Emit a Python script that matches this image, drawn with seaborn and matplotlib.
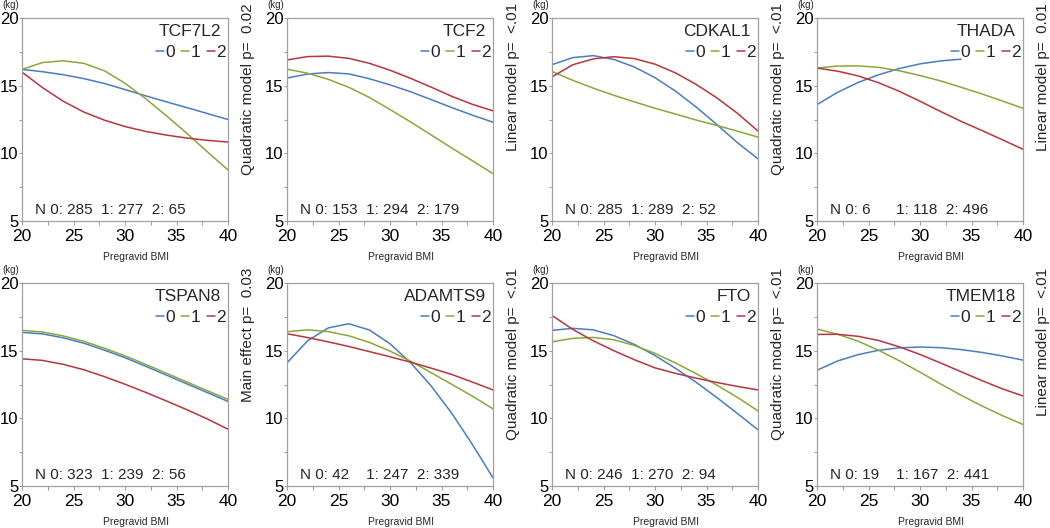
import pandas as pd
import matplotlib
matplotlib.use("Agg")
import matplotlib.pyplot as plt
import seaborn as sns
from matplotlib.ticker import MultipleLocator

# BMI grid the curves were read at
bmi = [20, 22, 24, 26, 28, 30, 32, 34, 36, 38, 40]
thada_bmi0 = [20, 22, 24, 26, 28, 30, 32, 34]

genes = ["TCF7L2", "TCF2", "CDKAL1", "THADA", "TSPAN8", "ADAMTS9", "FTO", "TMEM18"]
p_labels = [
    "Quadratic model p=  0.02",
    "Linear model p=  <.01",
    "Quadratic model p=  <.01",
    "Linear model p=  0.01",
    "Main effect p=  0.03",
    "Quadratic model p=  <.01",
    "Quadratic model p=  <.01",
    "Linear model p=  <.01",
]
n0 = [285, 153, 285, 6, 323, 42, 246, 19]
n1 = [277, 294, 289, 118, 239, 247, 270, 167]
n2 = [65, 179, 52, 496, 56, 339, 94, 441]

# predicted weight (kg) per genotype 0 / 1 / 2
tcf7l2_0 = [16.2, 16.03, 15.81, 15.52, 15.16, 14.71, 14.25, 13.81, 13.38, 12.94, 12.5]
tcf7l2_1 = [16.2, 16.71, 16.84, 16.65, 16.1, 15.18, 14.04, 12.79, 11.48, 10.11, 8.77]
tcf7l2_2 = [16.0, 14.85, 13.85, 13.05, 12.45, 11.98, 11.62, 11.35, 11.13, 10.96, 10.83]

tcf2_0 = [15.56, 15.86, 15.97, 15.87, 15.51, 15.06, 14.55, 13.97, 13.38, 12.82, 12.3]
tcf2_1 = [16.22, 15.92, 15.47, 14.88, 14.13, 13.24, 12.32, 11.36, 10.39, 9.45, 8.5]
tcf2_2 = [16.9, 17.15, 17.18, 17.02, 16.65, 16.14, 15.54, 14.89, 14.21, 13.62, 13.14]

cdkal1_0 = [16.55, 17.07, 17.22, 16.94, 16.38, 15.59, 14.59, 13.42, 12.13, 10.79, 9.6]
cdkal1_1 = [16.05, 15.4, 14.82, 14.29, 13.8, 13.33, 12.9, 12.46, 12.06, 11.64, 11.2]
cdkal1_2 = [15.65, 16.54, 16.98, 17.14, 17.0, 16.59, 15.94, 15.09, 14.1, 12.96, 11.65]

thada_0 = [13.6, 14.51, 15.24, 15.81, 16.27, 16.61, 16.83, 16.96]
thada_1 = [16.3, 16.45, 16.46, 16.35, 16.1, 15.75, 15.35, 14.88, 14.39, 13.87, 13.33]
thada_2 = [16.3, 16.07, 15.72, 15.21, 14.58, 13.85, 13.09, 12.36, 11.69, 11.0, 10.3]

tspan8_0 = [16.35, 16.24, 15.95, 15.55, 15.04, 14.48, 13.85, 13.2, 12.55, 11.9, 11.25]
tspan8_1 = [16.5, 16.38, 16.09, 15.69, 15.18, 14.62, 13.99, 13.34, 12.69, 12.04, 11.4]
tspan8_2 = [14.4, 14.28, 13.99, 13.59, 13.08, 12.52, 11.92, 11.29, 10.64, 9.95, 9.2]

adamts9_0 = [14.1, 15.73, 16.68, 16.99, 16.53, 15.51, 14.11, 12.39, 10.37, 8.07, 5.6]
adamts9_1 = [16.4, 16.54, 16.41, 16.1, 15.61, 14.97, 14.22, 13.37, 12.51, 11.64, 10.7]
adamts9_2 = [16.25, 15.97, 15.65, 15.31, 14.93, 14.55, 14.15, 13.71, 13.24, 12.68, 12.1]

fto_0 = [16.5, 16.65, 16.54, 16.11, 15.46, 14.64, 13.69, 12.66, 11.54, 10.36, 9.15]
fto_1 = [15.65, 15.91, 15.98, 15.81, 15.38, 14.8, 14.09, 13.3, 12.46, 11.55, 10.55]
fto_2 = [17.6, 16.58, 15.73, 15.0, 14.33, 13.73, 13.32, 12.97, 12.65, 12.36, 12.1]

tmem18_0 = [13.55, 14.24, 14.71, 15.03, 15.21, 15.27, 15.22, 15.08, 14.87, 14.61, 14.3]
tmem18_1 = [16.6, 16.21, 15.7, 15.02, 14.25, 13.41, 12.54, 11.7, 10.92, 10.2, 9.55]
tmem18_2 = [16.2, 16.21, 16.06, 15.75, 15.28, 14.72, 14.09, 13.44, 12.79, 12.18, 11.65]

curves = {
    "TCF7L2": [(bmi, tcf7l2_0), (bmi, tcf7l2_1), (bmi, tcf7l2_2)],
    "TCF2": [(bmi, tcf2_0), (bmi, tcf2_1), (bmi, tcf2_2)],
    "CDKAL1": [(bmi, cdkal1_0), (bmi, cdkal1_1), (bmi, cdkal1_2)],
    "THADA": [(thada_bmi0, thada_0), (bmi, thada_1), (bmi, thada_2)],
    "TSPAN8": [(bmi, tspan8_0), (bmi, tspan8_1), (bmi, tspan8_2)],
    "ADAMTS9": [(bmi, adamts9_0), (bmi, adamts9_1), (bmi, adamts9_2)],
    "FTO": [(bmi, fto_0), (bmi, fto_1), (bmi, fto_2)],
    "TMEM18": [(bmi, tmem18_0), (bmi, tmem18_1), (bmi, tmem18_2)],
}

rows = []
for gene in genes:
    for g, (xs, ys) in enumerate(curves[gene]):
        for x, y in zip(xs, ys):
            rows.append({"gene": gene, "genotype": str(g), "bmi": x, "kg": y})
df = pd.DataFrame(rows)

palette = {"0": "#4a7cc0", "1": "#8ba63a", "2": "#b8353d"}
frame_gray = "#a0a0a0"

sns.set_style("ticks")
plt.rcParams["font.family"] = ["Liberation Sans", "DejaVu Sans"]

W, H = 1050, 528
fig = plt.figure(figsize=(W / 100, H / 100), dpi=100)

col_left = [22, 287, 552, 817]
row_top = [18, 283]
ax_w, ax_h = 206, 203

for i, gene in enumerate(genes):
    r, c = divmod(i, 4)
    left, top = col_left[c], row_top[r]
    ax = fig.add_axes([left / W, 1 - (top + ax_h) / H, ax_w / W, ax_h / H])

    sns.lineplot(data=df[df["gene"] == gene], x="bmi", y="kg", hue="genotype",
                 hue_order=["0", "1", "2"], palette=palette, errorbar=None,
                 linewidth=1.1, ax=ax)

    ax.set_xlim(20, 40)
    ax.set_ylim(5, 20)
    ax.xaxis.set_major_locator(MultipleLocator(5))
    ax.xaxis.set_minor_locator(MultipleLocator(2.5))
    ax.yaxis.set_major_locator(MultipleLocator(5))
    ax.yaxis.set_minor_locator(MultipleLocator(2.5))
    ax.tick_params(which="both", direction="out", length=3, width=0.8,
                   color=frame_gray, labelsize=12.5, labelcolor="black")
    ax.tick_params(axis="y", which="both", length=2)
    ax.tick_params(axis="y", which="major", pad=0.5, labelsize=12)
    ax.tick_params(axis="x", which="major", pad=3)
    for s in ax.spines.values():
        s.set_color(frame_gray)
        s.set_linewidth(0.9)
    ax.set_xlabel("")
    ax.set_ylabel("")
    # last x label sits inside the frame, as in the original
    xt = ax.get_xticklabels()
    xt[-1].set_horizontalalignment("right")

    ax.text(0.555, -36 / ax_h, "Pregravid BMI", transform=ax.transAxes,
            ha="center", va="center", fontsize=7.5)
    ax.text(0.965, 0.935, gene, transform=ax.transAxes, ha="right",
            va="center", fontsize=12.5)

    handles, labels = ax.get_legend_handles_labels()
    ax.legend(handles, labels, loc="center right", bbox_to_anchor=(0.99, 0.828),
              ncol=3, frameon=False, fontsize=12.5, handlelength=0.45,
              handletextpad=0.1, columnspacing=0.35, borderaxespad=0,
              borderpad=0)

    pad0 = "  " * (3 - len(str(n0[i])))
    ax.text(0.063, 0.054, f"N 0: {n0[i]}{pad0}  1: {n1[i]}  2: {n2[i]}",
            transform=ax.transAxes, ha="left", va="center", fontsize=11)

    fig.text((left - 11) / W, 1 - (top - 13) / H, "(kg)", ha="center",
             va="center", fontsize=7)
    fig.text((left + ax_w + 20) / W, 1 - (top - 15) / H, p_labels[i],
             rotation=90, ha="center", va="top", fontsize=11)

fig.savefig("out.png", dpi=100)
